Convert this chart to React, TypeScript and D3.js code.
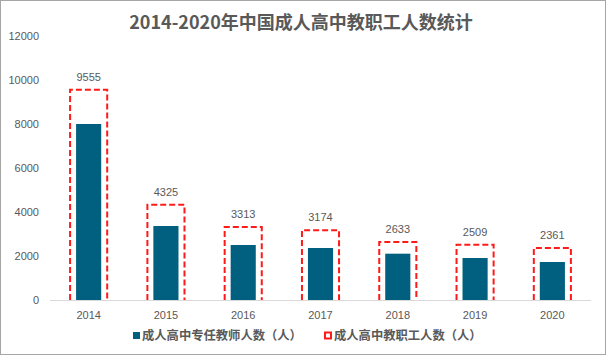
import React from "react";
import * as d3 from "d3";

const years = ["2014", "2015", "2016", "2017", "2018", "2019", "2020"];
const teachers = [8000, 3364, 2500, 2364, 2105, 1909, 1727];
const staff = [9555, 4325, 3313, 3174, 2633, 2509, 2361];
const yTicks = [0, 2000, 4000, 6000, 8000, 10000, 12000];
const title = "2014-2020年中国成人高中教职工人数统计";
const legendNames = ["成人高中专任教师人数（人）", "成人高中教职工人数（人）"];

const W = 606;
const H = 355;
const gray = "#595959";
const barColor = "#01607f";
const red = "#ff1a1a";

export default function App() {
  const x = d3.scaleBand<string>().domain(years).range([50, 591]);
  const y = d3.scaleLinear().domain([0, 12000]).range([300, 36]);
  const bw = x.bandwidth();
  const barW = bw * 0.325;
  const boxW = bw * 0.48;
  const numFont = "'Liberation Sans', Arial, sans-serif";
  const cjkFont = "'Noto Sans CJK SC', sans-serif";

  return (
    <div style={{ position: "fixed", left: 0, top: 0 }}>
      <svg width={W} height={H} style={{ display: "block" }}>
        <rect x={0} y={0} width={W} height={H} fill="#fff" />
        <rect x={0.5} y={0.5} width={W - 1} height={H - 1} fill="none" stroke="#a6a6a6" />
        <text
          x={301}
          y={29}
          textAnchor="middle"
          fontFamily={cjkFont}
          fontWeight="bold"
          fontSize={18}
          fill={gray}
        >
          {title}
        </text>
        {yTicks.map((t) => (
          <text
            key={t}
            x={39}
            y={y(t) + 4}
            textAnchor="end"
            fontFamily={numFont}
            fontSize={11}
            fill={gray}
          >
            {t}
          </text>
        ))}
        {years.map((yr, i) => {
          const cx = (x(yr) as number) + bw / 2;
          return (
            <g key={yr}>
              <rect
                x={cx - barW / 2}
                y={y(teachers[i])}
                width={barW}
                height={y(0) - y(teachers[i])}
                fill={barColor}
              />
              <path
                d={`M${cx - boxW / 2},${y(0)} V${y(staff[i])} H${cx + boxW / 2} V${y(0)}`}
                fill="none"
                stroke={red}
                strokeWidth={2}
                strokeDasharray="6,3"
              />
              <text
                x={cx}
                y={y(staff[i]) - 9}
                textAnchor="middle"
                fontFamily={numFont}
                fontSize={11}
                fill={gray}
              >
                {staff[i]}
              </text>
              <text
                x={cx}
                y={319}
                textAnchor="middle"
                fontFamily={numFont}
                fontSize={11}
                fill={gray}
              >
                {yr}
              </text>
            </g>
          );
        })}
        <line x1={50} x2={591} y1={300.5} y2={300.5} stroke="#d9d9d9" strokeWidth={1} />
        <rect x={133} y={332} width={7} height={7} fill={barColor} />
        <text x={142} y={340} fontFamily={cjkFont} fontWeight="bold" fontSize={12.3} fill={gray}>
          {legendNames[0]}
        </text>
        <rect x={325} y={332.5} width={6} height={6} fill="#fff" stroke={red} strokeWidth={2} />
        <text x={334} y={340} fontFamily={cjkFont} fontWeight="bold" fontSize={12.3} fill={gray}>
          {legendNames[1]}
        </text>
      </svg>
    </div>
  );
}
